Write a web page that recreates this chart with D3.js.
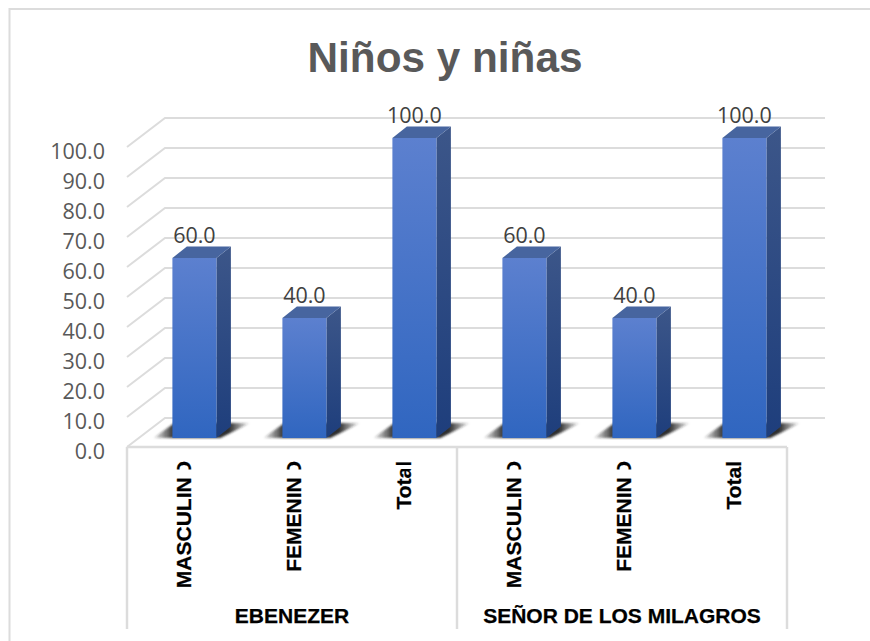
<!DOCTYPE html>
<html lang="es">
<head>
	<title>Niños y niñas</title>
	<meta charset="utf-8" />
	<script src="https://d3js.org/d3.v7.min.js"></script>
	<style>
		html, body { margin: 0; padding: 0; background: #fff; }
		svg { display: block; }
		.cat { font-family: "Liberation Sans", Arial, sans-serif; font-weight: bold; font-size: 21px; fill: #000; stroke: #000; stroke-width: 0.25px; }
		.val { font-family: "Open Sans", sans-serif; font-size: 21.5px; fill: #404040; }
		.tick text { font-family: "Open Sans", sans-serif; font-size: 21.5px; fill: #595959; }
	</style>
</head>
<body>
<div id="content"></div>
<script>
	var categories = ["MASCULINO", "FEMENINO", "Total", "MASCULINO", "FEMENINO", "Total"];
	var groups = ["EBENEZER", "SEÑOR DE LOS MILAGROS"];
	var values = [60.0, 40.0, 100.0, 60.0, 40.0, 100.0];
	var yTicks = [0, 10, 20, 30, 40, 50, 60, 70, 80, 90, 100];

	var width = 870, height = 641;
	var gridColor = "#dcdcdc";
	// depth of the fake 3d box
	var depthX = 38, depthY = 29;
	var barDX = 14.5, barDY = 11.5;

	var svg = d3.select("#content").append("svg")
		.attr("width", width)
		.attr("height", height);

	var x = d3.scaleBand().domain(d3.range(6)).range([127, 787]);
	var y = d3.scaleLinear().domain([0, 100]).range([447, 147]);
	var barW = x.bandwidth() * 0.4;
	var barX = function(i) { return x(i) + x.bandwidth() / 2 - barW / 2 + 12.4; };
	var barY = function(v) { return y(v) - 9; };

	var defs = svg.append("defs");

	function vGrad(id, top, bottom) {
		var g = defs.append("linearGradient").attr("id", id)
			.attr("x1", 0).attr("y1", 0).attr("x2", 0).attr("y2", 1);
		g.append("stop").attr("offset", "0%").attr("stop-color", top);
		g.append("stop").attr("offset", "100%").attr("stop-color", bottom);
	}
	vGrad("front60", "#5c80cf", "#3066c0");
	vGrad("side60", "#3c5689", "#1e3e7c");

	var sg = defs.append("linearGradient").attr("id", "shadow")
		.attr("x1", 0).attr("y1", 0).attr("x2", 1).attr("y2", 0);
	sg.append("stop").attr("offset", "0%").attr("stop-color", "#222").attr("stop-opacity", 0.05);
	sg.append("stop").attr("offset", "20%").attr("stop-color", "#222").attr("stop-opacity", 0.9);
	sg.append("stop").attr("offset", "78%").attr("stop-color", "#222").attr("stop-opacity", 0.95);
	sg.append("stop").attr("offset", "100%").attr("stop-color", "#222").attr("stop-opacity", 0);

	defs.append("filter").attr("id", "blur")
		.attr("x", "-20%").attr("y", "-40%").attr("width", "140%").attr("height", "180%")
		.append("feGaussianBlur").attr("stdDeviation", 1.2);

	// outer frame, runs off the picture right and bottom
	svg.append("path")
		.attr("d", "M9.5,641V9H870")
		.attr("fill", "none")
		.attr("stroke", gridColor)
		.attr("stroke-width", 2);

	// title
	svg.append("text")
		.attr("x", 445)
		.attr("y", 72)
		.attr("text-anchor", "middle")
		.attr("font-family", "'Liberation Sans', Arial, sans-serif")
		.attr("font-weight", "bold")
		.attr("font-size", 42.3)
		.attr("fill", "#595959")
		.text("Niños y niñas");

	// back wall and side wall gridlines
	var grid = svg.append("g")
		.attr("fill", "none")
		.attr("stroke", gridColor)
		.attr("stroke-width", 2);
	grid.selectAll("path")
		.data(yTicks)
		.enter()
		.append("path")
		.attr("d", function(d) {
			return "M" + x.range()[0] + "," + y(d)
				+ "L" + (x.range()[0] + depthX) + "," + (y(d) - depthY)
				+ "H825";
		});

	// floor edge and separators
	var floor = svg.append("g")
		.attr("fill", "none")
		.attr("stroke", gridColor)
		.attr("stroke-width", 2.5);
	floor.append("path")
		.attr("d", "M" + x.range()[0] + "," + y(0) + "H" + x.range()[1]);
	floor.selectAll(".sep")
		.data([0, 3, 6])
		.enter()
		.append("path")
		.attr("class", "sep")
		.attr("d", function(d) {
			var px = d === 6 ? x.range()[1] : x(d);
			return "M" + px + "," + y(0) + "V629";
		});

	var yAxis = d3.axisLeft(y)
		.tickValues(yTicks)
		.tickSize(0)
		.tickPadding(22)
		.tickFormat(d3.format(".1f"));
	var axisG = svg.append("g")
		.attr("transform", "translate(127,5)")
		.call(yAxis);
	axisG.select(".domain").remove();

	// shadows on the floor
	svg.append("g").selectAll("path")
		.data(values)
		.enter()
		.append("path")
		.attr("d", function(d, i) {
			var bx = barX(i), by = barY(0);
			return "M" + (bx - 19) + "," + by
				+ "H" + (bx + barW + 4)
				+ "L" + (bx + barW + 34) + "," + (by - 15)
				+ "H" + (bx + 2) + "Z";
		})
		.attr("fill", "url(#shadow)")
		.attr("filter", "url(#blur)");

	var bars = svg.append("g").selectAll("g")
		.data(values)
		.enter()
		.append("g");

	// right side of the box
	bars.append("path")
		.attr("d", function(d, i) {
			var r = barX(i) + barW;
			return "M" + r + "," + barY(d)
				+ "L" + (r + barDX) + "," + (barY(d) - barDY)
				+ "V" + (barY(0) - barDY)
				+ "L" + r + "," + barY(0) + "Z";
		})
		.attr("fill", "url(#side60)");

	// top of the box
	bars.append("path")
		.attr("d", function(d, i) {
			var l = barX(i);
			return "M" + l + "," + barY(d)
				+ "L" + (l + barDX) + "," + (barY(d) - barDY)
				+ "H" + (l + barW + barDX)
				+ "L" + (l + barW) + "," + barY(d) + "Z";
		})
		.attr("fill", "#47659f");

	bars.append("rect")
		.attr("x", function(d, i) { return barX(i); })
		.attr("y", function(d) { return barY(d); })
		.attr("width", barW)
		.attr("height", function(d) { return barY(0) - barY(d); })
		.attr("fill", "url(#front60)");

	// data labels
	svg.append("g").selectAll("text")
		.data(values)
		.enter()
		.append("text")
		.attr("class", "val")
		.attr("x", function(d, i) { return barX(i) + barW / 2; })
		.attr("y", function(d) { return barY(d) - 15; })
		.attr("text-anchor", "middle")
		.text(function(d) { return d3.format(".1f")(d); });

	// category labels, rotated and hanging from the floor
	var catTop = 461;
	svg.append("g").selectAll("text")
		.data(categories)
		.enter()
		.append("text")
		.attr("class", "cat")
		.attr("text-anchor", "end")
		.attr("transform", function(d, i) {
			return "translate(" + (x(i) + x.bandwidth() / 2 + 8.5) + "," + catTop + ") rotate(-90)";
		})
		.text(function(d) { return d; });

	// the source cuts the last letter of some labels
	var cut = svg.append("g");
	categories.forEach(function(d, i) {
		if (i === 5) return;
		cut.append("rect")
			.attr("x", x(i) + x.bandwidth() / 2 - 11)
			.attr("width", 22)
			.attr("y", d === "Total" ? 465 : 469.5)
			.attr("height", d === "Total" ? 4 : 8)
			.attr("fill", "#fff");
	});

	svg.append("g").selectAll("text")
		.data(groups)
		.enter()
		.append("text")
		.attr("class", "cat")
		.attr("text-anchor", "middle")
		.attr("x", function(d, i) { return x(i * 3) + x.bandwidth() * 1.5; })
		.attr("y", 623)
		.text(function(d) { return d; });
</script>
</body>
</html>
